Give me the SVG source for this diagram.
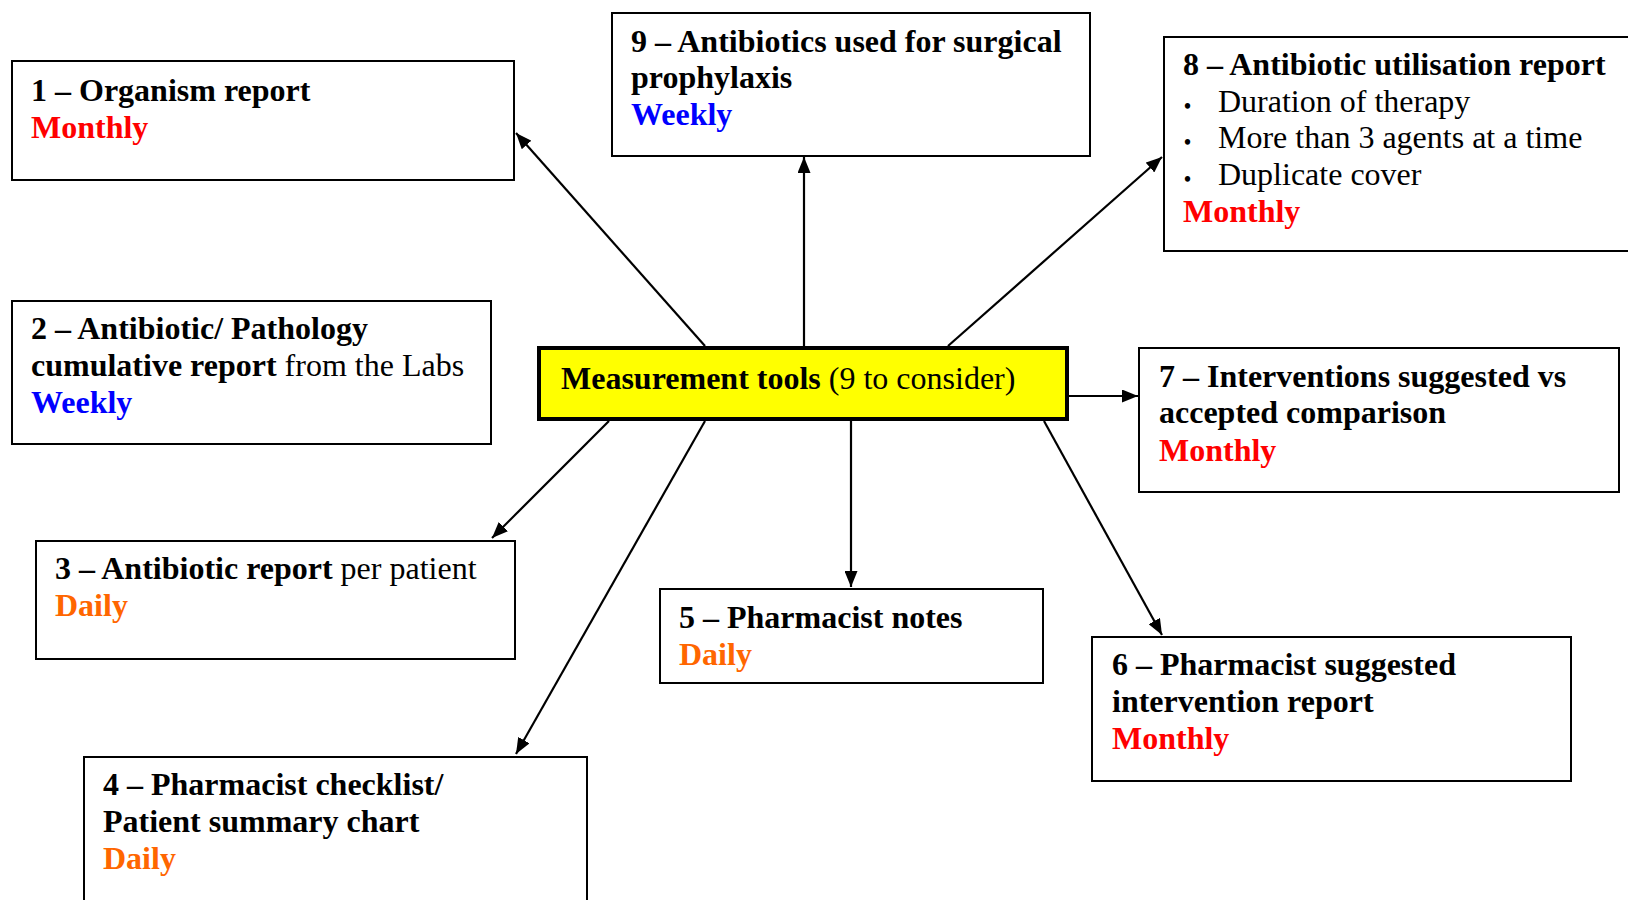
<svg xmlns="http://www.w3.org/2000/svg" width="1628" height="900" viewBox="0 0 1628 900">
<style>
  .box { fill: #ffffff; stroke: #000000; stroke-width: 2; }
  .center { fill: #ffff00; stroke: #000000; stroke-width: 4; }
  text { font-family: "Liberation Serif", "Times New Roman", serif; font-size: 32px; fill: #000000; }
  .b { font-weight: bold; }
  .monthly { font-weight: bold; fill: #ff0000; }
  .weekly { font-weight: bold; fill: #0000ff; }
  .daily { font-weight: bold; fill: #ff6600; }
  .bullet { font-size: 20px; font-weight: bold; }
  .conn line { stroke: #000000; stroke-width: 2.2; marker-end: url(#arrow); }
</style>
<defs>
  <marker id="arrow" markerUnits="userSpaceOnUse" markerWidth="16" markerHeight="13" refX="16" refY="6.5" orient="auto">
    <path d="M0,0 L16,6.5 L0,13 z" fill="#000000"/>
  </marker>
</defs>
<rect x="0" y="0" width="1628" height="900" fill="#ffffff"/>

<g id="connectors" class="conn">
  <line x1="705" y1="346" x2="516" y2="133"/>
  <line x1="804" y1="346" x2="804" y2="157"/>
  <line x1="948" y1="346" x2="1162" y2="157"/>
  <line x1="1069" y1="396" x2="1138" y2="396"/>
  <line x1="1044" y1="421" x2="1162" y2="635"/>
  <line x1="851" y1="421" x2="851" y2="587"/>
  <line x1="705" y1="421" x2="516" y2="754"/>
  <line x1="609" y1="421" x2="492" y2="538"/>
</g>

<g id="node-center">
  <rect class="center" x="539" y="348" width="528" height="71"/>
  <text x="561" y="389"><tspan class="b">Measurement tools</tspan> (9 to consider)</text>
</g>

<g id="node-1">
  <rect class="box" x="12" y="61" width="502" height="119"/>
  <text class="b" x="31" y="101">1 – Organism report</text>
  <text class="monthly" x="31" y="138">Monthly</text>
</g>

<g id="node-2">
  <rect class="box" x="12" y="301" width="479" height="143"/>
  <text class="b" x="31" y="339">2 – Antibiotic/ Pathology</text>
  <text x="31" y="376"><tspan class="b">cumulative report</tspan> from the Labs</text>
  <text class="weekly" x="31" y="413">Weekly</text>
</g>

<g id="node-3">
  <rect class="box" x="36" y="541" width="479" height="118"/>
  <text x="55" y="579"><tspan class="b">3 – Antibiotic report</tspan> per patient</text>
  <text class="daily" x="55" y="616">Daily</text>
</g>

<g id="node-4">
  <rect class="box" x="84" y="757" width="503" height="160"/>
  <text class="b" x="103" y="795">4 – Pharmacist checklist/</text>
  <text class="b" x="103" y="832">Patient summary chart</text>
  <text class="daily" x="103" y="869">Daily</text>
</g>

<g id="node-5">
  <rect class="box" x="660" y="589" width="383" height="94"/>
  <text class="b" x="679" y="628">5 – Pharmacist notes</text>
  <text class="daily" x="679" y="665">Daily</text>
</g>

<g id="node-6">
  <rect class="box" x="1092" y="637" width="479" height="144"/>
  <text class="b" x="1112" y="675">6 – Pharmacist suggested</text>
  <text class="b" x="1112" y="712">intervention report</text>
  <text class="monthly" x="1112" y="749">Monthly</text>
</g>

<g id="node-7">
  <rect class="box" x="1139" y="348" width="480" height="144"/>
  <text class="b" x="1159" y="387">7 – Interventions suggested vs</text>
  <text class="b" x="1159" y="423">accepted comparison</text>
  <text class="monthly" x="1159" y="461">Monthly</text>
</g>

<g id="node-8">
  <rect class="box" x="1164" y="37" width="480" height="214"/>
  <text class="b" x="1183" y="75">8 – Antibiotic utilisation report</text>
  <text class="bullet" x="1184" y="113">•</text>
  <text x="1218" y="112">Duration of therapy</text>
  <text class="bullet" x="1184" y="149">•</text>
  <text x="1218" y="148">More than 3 agents at a time</text>
  <text class="bullet" x="1184" y="186">•</text>
  <text x="1218" y="185">Duplicate cover</text>
  <text class="monthly" x="1183" y="222">Monthly</text>
</g>

<g id="node-9">
  <rect class="box" x="612" y="13" width="478" height="143"/>
  <text class="b" x="631" y="52">9 – Antibiotics used for surgical</text>
  <text class="b" x="631" y="88">prophylaxis</text>
  <text class="weekly" x="631" y="125">Weekly</text>
</g>
</svg>
